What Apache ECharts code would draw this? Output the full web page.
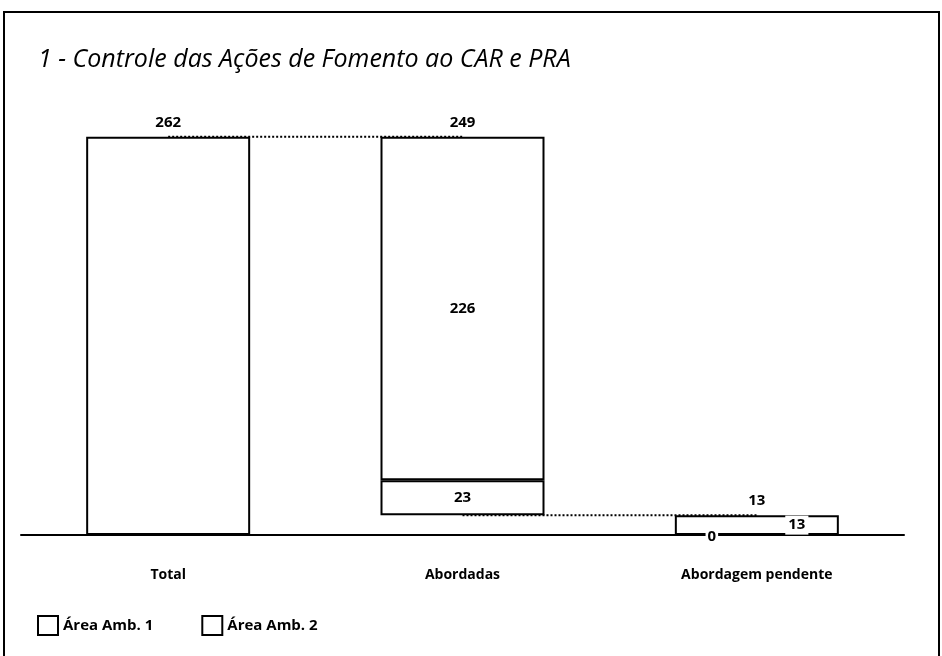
<!DOCTYPE html>
<html>
<head>
<meta charset="utf-8">
<script src="https://cdn.jsdelivr.net/npm/echarts@6/dist/echarts.min.js"></script>
<style>
  html, body { margin: 0; padding: 0; background: #fff; }
  #chart { width: 942px; height: 656px; }
</style>
</head>
<body>
<div id="chart"></div>
<script>
// dados
const categories = ['Total', 'Abordadas', 'Abordagem pendente'];
const baseValues = [0, 13, 0];          // base invisível (cascata)
const totalBar = [262, '-', '-'];
const amb1 = ['-', 23, 0];
const amb2 = ['-', 226, 13];
const topLabels = [262, 249, 13];

const font = '"Open Sans", Lato, sans-serif';
const black = '#000';

// topo de cada coluna = base + rótulo
const tops = topLabels.map((v, i) => v + baseValues[i]);

const chart = echarts.init(document.getElementById('chart'));
chart.setOption({
  animation: false,
  title: {
    text: '1 - Controle das Ações de Fomento ao CAR e PRA',
    left: 33, top: 42,
    textStyle: { fontFamily: font, fontStyle: 'italic', fontWeight: 'normal', fontSize: 25, color: black }
  },
  legend: {
    data: ['Área Amb. 1', 'Área Amb. 2'],
    left: 32, top: 610,
    icon: 'rect', itemWidth: 20, itemHeight: 19, itemGap: 48,
    textStyle: { fontFamily: font, fontWeight: 'bold', fontSize: 15, color: black }
  },
  grid: { left: 21, right: 38, top: 79, bottom: 121 },
  xAxis: {
    type: 'category',
    data: categories,
    axisLine: { lineStyle: { color: black, width: 2 } },
    axisTick: { show: false },
    axisLabel: { margin: 33, fontFamily: font, fontWeight: 'bold', fontSize: 14, color: black }
  },
  yAxis: { type: 'value', min: 0, max: 300, show: false, splitLine: { show: false } },
  graphic: [{
    type: 'rect', shape: { x: 4, y: 12, width: 935, height: 700 },
    style: { fill: 'none', stroke: black, lineWidth: 2 }, silent: true
  }],
  series: [
    {
      name: 'base', type: 'bar', stack: 'w', barWidth: 164, data: baseValues,
      itemStyle: { color: 'transparent' }, silent: true
    },
    {
      name: 'Total', type: 'bar', stack: 'w', data: totalBar,
      itemStyle: { color: '#fff', borderColor: black, borderWidth: 2 }
    },
    {
      name: 'Área Amb. 1', type: 'bar', stack: 'w', data: amb1.map((v, i) => i === 2
        ? { value: v, label: { show: true, position: 'inside', offset: [-45, 2], backgroundColor: '#fff', padding: [0, 2] } }
        : v),
      itemStyle: { color: '#fff', borderColor: black, borderWidth: 2 },
      label: { show: true, position: 'inside', fontFamily: font, fontWeight: 'bold', fontSize: 15, color: black }
    },
    {
      name: 'Área Amb. 2', type: 'bar', stack: 'w', data: amb2.map((v, i) => i === 2
        ? { value: v, label: { offset: [40, 0], backgroundColor: '#fff', padding: [2, 3] } }
        : v),
      itemStyle: { color: '#fff', borderColor: black, borderWidth: 2 },
      label: { show: true, position: 'inside', fontFamily: font, fontWeight: 'bold', fontSize: 15, color: black }
    },
    {
      name: 'rotulos', type: 'bar', barGap: '-100%', barWidth: 164, data: tops,
      itemStyle: { color: 'transparent' }, silent: true, z: 1,
      label: {
        show: true, position: 'top', distance: 7,
        formatter: p => topLabels[p.dataIndex],
        fontFamily: font, fontWeight: 'bold', fontSize: 15, color: black
      }
    },
    {
      name: 'ligacao1', type: 'line', data: [tops[0], tops[1], '-'], symbol: 'none', silent: true, z: 1,
      lineStyle: { color: black, width: 2, type: 'dotted' }
    },
    {
      name: 'ligacao2', type: 'line', data: ['-', baseValues[1], tops[2]], symbol: 'none', silent: true, z: 1,
      lineStyle: { color: black, width: 2, type: 'dotted' }
    }
  ]
});
</script>
</body>
</html>
